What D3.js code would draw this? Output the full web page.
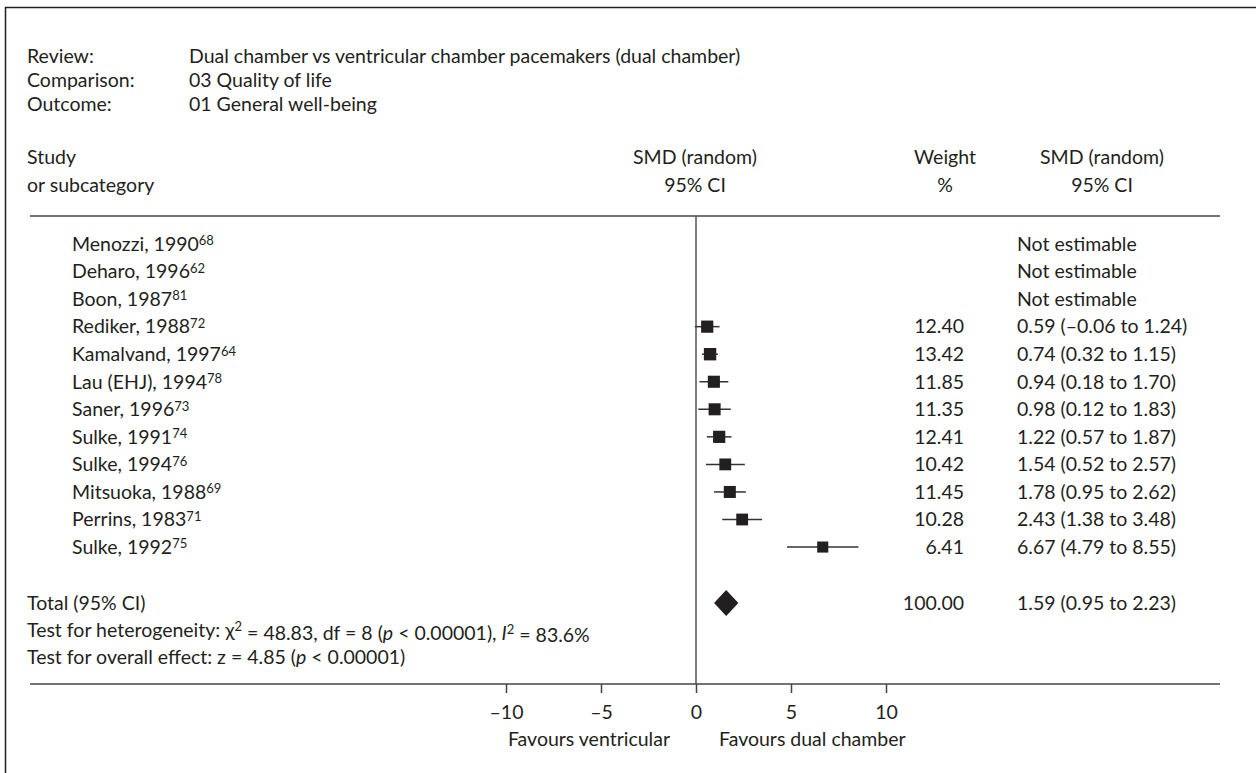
<!DOCTYPE html>
<html>
<head>
<meta charset="utf-8">
<script src="https://cdn.jsdelivr.net/npm/d3@7"></script>
<style>
  body { margin: 0; background: #fff; }
  svg text { font-family: Lato, "Open Sans", sans-serif; fill: #231f20; }
</style>
</head>
<body>
<div id="okvir"></div>
<script>
// podaci s grafa
const headLabels = ["Review:", "Comparison:", "Outcome:"];
const headValues = ["Dual chamber vs ventricular chamber pacemakers (dual chamber)", "03 Quality of life", "01 General well-being"];

const studies = ["Menozzi, 1990", "Deharo, 1996", "Boon, 1987", "Rediker, 1988", "Kamalvand, 1997",
  "Lau (EHJ), 1994", "Saner, 1996", "Sulke, 1991", "Sulke, 1994", "Mitsuoka, 1988", "Perrins, 1983", "Sulke, 1992"];
const refs = ["68", "62", "81", "72", "64", "78", "73", "74", "76", "69", "71", "75"];
const smd = [null, null, null, 0.59, 0.74, 0.94, 0.98, 1.22, 1.54, 1.78, 2.43, 6.67];
const lower = [null, null, null, -0.06, 0.32, 0.18, 0.12, 0.57, 0.52, 0.95, 1.38, 4.79];
const upper = [null, null, null, 1.24, 1.15, 1.70, 1.83, 1.87, 2.57, 2.62, 3.48, 8.55];
const weights = [null, null, null, 12.40, 13.42, 11.85, 11.35, 12.41, 10.42, 11.45, 10.28, 6.41];

const totalEst = [1.59, 0.95, 2.23]; // smd, donja, gornja
const totalWeight = 100.00;

const tickValues = [-10, -5, 0, 5, 10];

const fmtNum = v => (v < 0 ? "\u2013" : "") + Math.abs(v).toFixed(2);
const fmtCI = (m, l, u) => `${fmtNum(m)} (${fmtNum(l)} to ${fmtNum(u)})`;

const sirina = 1256, visina = 773;
const fs = 19.5;
const supFs = 13;

const svg = d3.select("#okvir").append("svg")
  .attr("width", sirina).attr("height", visina);

// okvir
svg.append("line").attr("x1", 5).attr("x2", sirina).attr("y1", 7.5).attr("y2", 7.5)
  .attr("stroke", "#231f20").attr("stroke-width", 1.5);
svg.append("line").attr("x1", 5.5).attr("x2", 5.5).attr("y1", 7).attr("y2", visina)
  .attr("stroke", "#231f20").attr("stroke-width", 1.5);

const xSkala = d3.scaleLinear().domain([-10, 10]).range([506, 886]);
const ySkala = d3.scaleLinear().domain([0, 1]).range([244, 271.55]);
const velSkala = d3.scaleLinear().domain([6, 14]).range([11, 12.5]);

// zaglavlje
headLabels.forEach((t, i) => {
  svg.append("text").attr("x", 27).attr("y", 56 + i * 24).attr("dy", "0.35em")
    .style("font-size", fs + "px").text(t);
  svg.append("text").attr("x", 189).attr("y", 56 + i * 24).attr("dy", "0.35em")
    .style("font-size", fs + "px").text(headValues[i]);
});

const kolone = [
  { x: 27, anchor: "start", l1: "Study", l2: "or subcategory" },
  { x: 695, anchor: "middle", l1: "SMD (random)", l2: "95% CI" },
  { x: 945, anchor: "middle", l1: "Weight", l2: "%" },
  { x: 1102, anchor: "middle", l1: "SMD (random)", l2: "95% CI" }
];
kolone.forEach(k => {
  svg.append("text").attr("x", k.x).attr("y", 157).attr("dy", "0.35em")
    .attr("text-anchor", k.anchor).style("font-size", fs + "px").text(k.l1);
  svg.append("text").attr("x", k.x).attr("y", 185).attr("dy", "0.35em")
    .attr("text-anchor", k.anchor).style("font-size", fs + "px").text(k.l2);
});

// horizontalne crte
[216, 684].forEach(y => {
  svg.append("line").attr("x1", 30).attr("x2", 1220).attr("y1", y).attr("y2", y)
    .attr("stroke", "#444").attr("stroke-width", 1.5);
});

// nul-linija
svg.append("line").attr("x1", xSkala(0)).attr("x2", xSkala(0)).attr("y1", 216).attr("y2", 684)
  .attr("stroke", "#555").attr("stroke-width", 1.5);

// studije
const redovi = svg.append("g").selectAll("g").data(studies).join("g");

redovi.each(function (s, i) {
  const g = d3.select(this);
  const y = ySkala(i);
  const t = g.append("text").attr("x", 72).attr("y", y).attr("dy", "0.35em")
    .style("font-size", fs + "px").text(s);
  t.append("tspan").attr("dy", "-0.42em").style("font-size", supFs + "px").text(refs[i]);

  if (smd[i] === null) {
    g.append("text").attr("x", 1017).attr("y", y).attr("dy", "0.35em")
      .style("font-size", fs + "px").text("Not estimable");
    return;
  }
  g.append("line").attr("x1", xSkala(lower[i])).attr("x2", xSkala(upper[i]))
    .attr("y1", y).attr("y2", y).attr("stroke", "#333").attr("stroke-width", 1.5);
  const vel = velSkala(weights[i]);
  g.append("rect").attr("x", xSkala(smd[i]) - vel / 2).attr("y", y - vel / 2)
    .attr("width", vel).attr("height", vel).attr("fill", "#231f20");
  g.append("text").attr("x", 964).attr("y", y).attr("dy", "0.35em").attr("text-anchor", "end")
    .style("font-size", fs + "px").text(weights[i].toFixed(2));
  g.append("text").attr("x", 1017).attr("y", y).attr("dy", "0.35em")
    .style("font-size", fs + "px").text(fmtCI(smd[i], lower[i], upper[i]));
});

// ukupno
const yTot = 603;
svg.append("path")
  .attr("d", `M${xSkala(totalEst[1])},${yTot} L${xSkala(totalEst[0])},${yTot - 13} L${xSkala(totalEst[2])},${yTot} L${xSkala(totalEst[0])},${yTot + 13} Z`)
  .attr("fill", "#231f20");
svg.append("text").attr("x", 27).attr("y", yTot).attr("dy", "0.35em")
  .style("font-size", fs + "px").text("Total (95% CI)");
svg.append("text").attr("x", 964).attr("y", yTot).attr("dy", "0.35em").attr("text-anchor", "end")
  .style("font-size", fs + "px").text(totalWeight.toFixed(2));
svg.append("text").attr("x", 1017).attr("y", yTot).attr("dy", "0.35em")
  .style("font-size", fs + "px").text(fmtCI(totalEst[0], totalEst[1], totalEst[2]));

const het = svg.append("text").attr("x", 27).attr("y", 630).attr("dy", "0.35em")
  .style("font-size", fs + "px");
het.append("tspan").text("Test for heterogeneity: \u03C7");
het.append("tspan").attr("dy", "-0.42em").style("font-size", supFs + "px").text("2");
het.append("tspan").attr("dy", "0.42em").text(" = 48.83, df = 8 (");
het.append("tspan").style("font-style", "italic").text("p");
het.append("tspan").text(" < 0.00001), ");
het.append("tspan").style("font-style", "italic").text("I");
het.append("tspan").attr("dy", "-0.42em").style("font-size", supFs + "px").text("2");
het.append("tspan").attr("dy", "0.42em").text(" = 83.6%");

const eff = svg.append("text").attr("x", 27).attr("y", 657).attr("dy", "0.35em")
  .style("font-size", fs + "px");
eff.append("tspan").text("Test for overall effect: z = 4.85 (");
eff.append("tspan").style("font-style", "italic").text("p");
eff.append("tspan").text(" < 0.00001)");

// x os
const xOsGen = d3.axisBottom(xSkala).tickValues(tickValues).tickSize(9).tickPadding(12)
  .tickFormat(d => (d < 0 ? "\u2013" : "") + Math.abs(d));
const xOs = svg.append("g").attr("transform", "translate(0,684)").call(xOsGen);
xOs.select(".domain").remove();
xOs.selectAll(".tick line").attr("stroke", "#444").attr("stroke-width", 1.5);
xOs.selectAll(".tick text").style("font-size", fs + "px")
  .style("font-family", "Lato, 'Open Sans', sans-serif").attr("fill", "#231f20");

svg.append("text").attr("x", 670).attr("y", 739).attr("dy", "0.35em").attr("text-anchor", "end")
  .style("font-size", fs + "px").text("Favours ventricular");
svg.append("text").attr("x", 719).attr("y", 739).attr("dy", "0.35em")
  .style("font-size", fs + "px").text("Favours dual chamber");
</script>
</body>
</html>
